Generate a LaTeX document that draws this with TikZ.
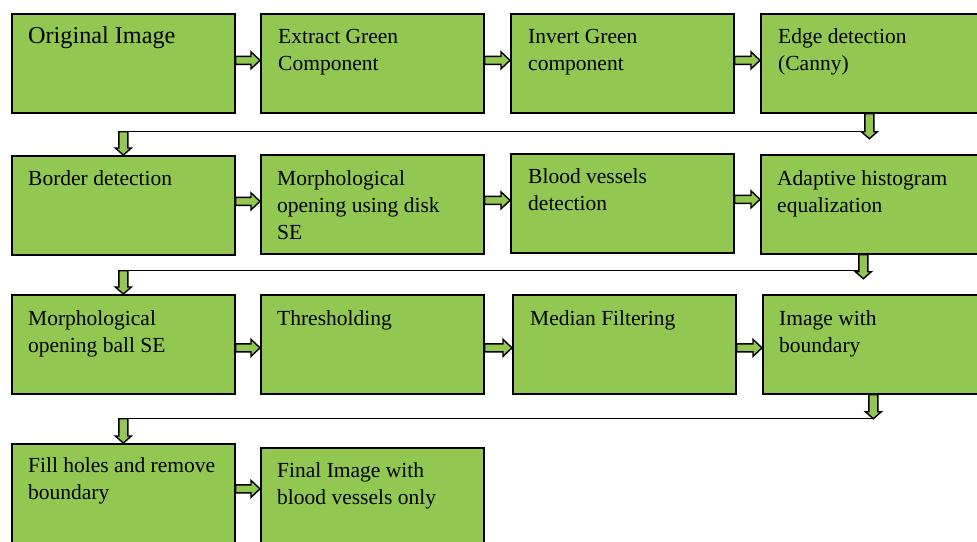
\documentclass[tikz,border=0pt]{standalone}
\usepackage{fontspec}
\setmainfont{Liberation Serif}
\usetikzlibrary{calc}
\definecolor{boxgreen}{RGB}{146,200,82}
\begin{document}
\begin{tikzpicture}[x=1pt, y=-1pt,
    procbox/.style={draw=black, fill=boxgreen, line width=1.7pt, inner sep=0pt,
        minimum width=223pt, minimum height=99pt, anchor=north west},
    proctext/.style={anchor=base west, inner sep=0pt, align=left,
        font=\fontsize{21.5}{27}\selectfont},
    fatright/.style={draw=black, fill=boxgreen, line width=1.4pt,
        to path={let \p1=(\tikztostart), \p2=(\tikztotarget) in
            (\x1,\y1+4pt) -- (\x2-9pt,\y1+4pt) -- (\x2-9pt,\y1+8.5pt) -- (\x2,\y1)
            -- (\x2-9pt,\y1-8.5pt) -- (\x2-9pt,\y1-4pt) -- (\x1,\y1-4pt) -- cycle}},
    fatdown/.style={draw=black, fill=boxgreen, line width=1.4pt,
        to path={let \p1=(\tikztostart), \p2=(\tikztotarget) in
            (\x1-4.5pt,\y1) -- (\x1-4.5pt,\y2+7pt) -- (\x1-8pt,\y2+7pt) -- (\x1,\y2)
            -- (\x1+8pt,\y2+7pt) -- (\x1+4.5pt,\y2+7pt) -- (\x1+4.5pt,\y1) -- cycle}}]
    \clip (0,0) rectangle (977,541);
    \fill[white] (0,0) rectangle (977,541);

    % row 1
    \node[procbox] (b1) at (11,13) {};
    \node[procbox] (b2) at (260,13) {};
    \node[procbox] (b3) at (510,13) {};
    \node[procbox] (b4) at (760,13) {};
    % row 2
    \node[procbox] (b5) at (11,155) {};
    \node[procbox] (b6) at (260,154) {};
    \node[procbox] (b7) at (510,153) {};
    \node[procbox] (b8) at (760,154) {};
    % row 3
    \node[procbox] (b9) at (11,294) {};
    \node[procbox] (b10) at (260,294) {};
    \node[procbox] (b11) at (512,294) {};
    \node[procbox] (b12) at (762,294) {};
    % row 4
    \node[procbox, minimum height=110pt] (b13) at (11,443) {};
    \node[procbox, minimum height=110pt] (b14) at (260,447) {};

    % texts (anchored on the baseline of their last line)
    \node[proctext, font=\fontsize{24.2}{28}\selectfont] (t1) at ([shift={(17,30)}]b1.north west) {Original Image};
    \node[proctext] (t2) at ([shift={(18,57)}]b2.north west) {Extract Green\\Component};
    \node[proctext] (t3) at ([shift={(18,57)}]b3.north west) {Invert Green\\component};
    \node[proctext] (t4) at ([shift={(18,57)}]b4.north west) {Edge detection\\(Canny)};
    \node[proctext] (t5) at ([shift={(17,30)}]b5.north west) {Border detection};
    \node[proctext] (t6) at ([shift={(17,85)}]b6.north west) {Morphological\\opening using disk\\SE};
    \node[proctext] (t7) at ([shift={(18,57)}]b7.north west) {Blood vessels\\detection};
    \node[proctext] (t8) at ([shift={(17,58)}]b8.north west) {Adaptive histogram\\equalization};
    \node[proctext] (t9) at ([shift={(17,58)}]b9.north west) {Morphological\\opening ball SE};
    \node[proctext] (t10) at ([shift={(17,31)}]b10.north west) {Thresholding};
    \node[proctext] (t11) at ([shift={(18,31)}]b11.north west) {Median Filtering};
    \node[proctext] (t12) at ([shift={(17,58)}]b12.north west) {Image with\\boundary};
    \node[proctext] (t13) at ([shift={(17,56)}]b13.north west) {Fill holes and remove\\boundary};
    \node[proctext] (t14) at ([shift={(17,57)}]b14.north west) {Final Image with\\blood vessels only};

    % arrows inside the rows
    \draw[fatright] ([yshift=3pt]b1.east) to ([yshift=3pt]b1.east -| b2.west);
    \draw[fatright] ([yshift=3pt]b2.east) to ([yshift=3pt]b2.east -| b3.west);
    \draw[fatright] ([yshift=3pt]b3.east) to ([yshift=3pt]b3.east -| b4.west);
    \draw[fatright] ([yshift=4pt]b5.east) to ([yshift=4pt]b5.east -| b6.west);
    \draw[fatright] ([yshift=4pt]b6.east) to ([yshift=4pt]b6.east -| b7.west);
    \draw[fatright] ([yshift=4pt]b7.east) to ([yshift=4pt]b7.east -| b8.west);
    \draw[fatright] ([yshift=-3.5pt]b9.east) to ([yshift=-3.5pt]b9.east -| b10.west);
    \draw[fatright] ([yshift=-3.5pt]b10.east) to ([yshift=-3.5pt]b10.east -| b11.west);
    \draw[fatright] ([yshift=-3.5pt]b11.east) to ([yshift=-3.5pt]b11.east -| b12.west);
    \draw[fatright] ([yshift=10pt]b13.east) to ([yshift=10pt]b13.east -| b14.west);

    % links between the rows
    \coordinate (m1) at ([xshift=-3pt, yshift=-18pt]b4.south);
    \coordinate (m2) at ([xshift=-9pt, yshift=-16pt]b8.south);
    \coordinate (m3) at ([xshift=-1pt, yshift=-24pt]b12.south);
    \draw[line width=1.4pt] (m1) -- (m1 -| b5.north);
    \draw[line width=1.4pt] (m2) -- (m2 -| b9.north);
    \draw[line width=1.4pt] (m3) -- (m3 -| b13.north);
    \draw[fatdown] (b4.south -| m1) to ([yshift=-7pt]m1);
    \draw[fatdown] (b8.south -| m2) to ([yshift=-8pt]m2);
    \draw[fatdown] (b12.south -| m3) to (m3);
    \draw[fatdown] (m1 -| b5.north) to (b5.north);
    \draw[fatdown] (m2 -| b9.north) to (b9.north);
    \draw[fatdown] (m3 -| b13.north) to (b13.north);
\end{tikzpicture}
\end{document}
